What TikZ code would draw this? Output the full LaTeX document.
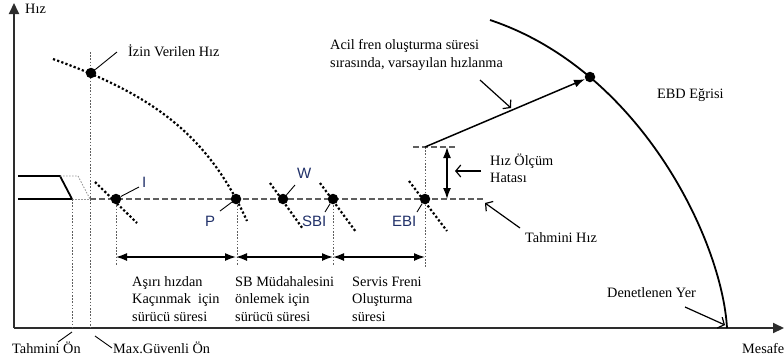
\documentclass[tikz,border=0pt]{standalone}
\usepackage{fontspec}
\setmainfont{Liberation Serif}
\newfontfamily\sansfnt{Liberation Sans}
\usetikzlibrary{arrows.meta}
\definecolor{axisgray}{RGB}{45,45,45}
\definecolor{guidegray}{RGB}{95,95,95}
\definecolor{lblblue}{RGB}{32,48,105}
\begin{document}
\begin{tikzpicture}[x=1pt,y=-1pt,
  every node/.style={font=\fontsize{14.3}{17.5}\selectfont, inner sep=0pt},
  txt/.style={anchor=base west},
  lbl/.style={anchor=base west, font=\sansfnt\fontsize{15}{17}\selectfont, text=lblblue},
  axis/.style={line width=2pt, draw=axisgray, -{Triangle[length=11pt,width=10pt]}},
  guide/.style={draw=guidegray, line width=0.9pt, dash pattern=on 1.6pt off 1.6pt},
  hdash/.style={draw=guidegray, line width=1.3pt, dash pattern=on 6pt off 3pt},
  dotcurve/.style={line width=2.2pt, dash pattern=on 2.2pt off 2.2pt},
  pt/.style={circle, fill=black, minimum size=10.5pt},
  dim/.style={line width=1.5pt, {Latex[length=11pt,width=8pt]}-{Latex[length=11pt,width=8pt]}},
  lead/.style={line width=0.9pt},
  barb/.style={line width=1.2pt, -{Straight Barb[length=5pt,width=12pt]}},
  train/.style={line width=1.8pt},
  ghost/.style={draw=black!40, line width=0.9pt, dash pattern=on 1.5pt off 1.5pt},
]
\useasboundingbox (0,0) rectangle (784,360);

% axes
\coordinate (O) at (14,328);
\coordinate (ytop) at (14,3);
\coordinate (xend) at (784,328);
\draw[axis] (O) -- (ytop);
\draw[axis] (O) -- (xend);
\node[txt] (hiz) at (25,13) {Hız};
\node[txt] (mesafe) at (742,353) {Mesafe};

% train front
\draw[train] (18,176) -- (60,176) -- (72,199);
\draw[train] (18,199) -- (72,199);
\draw[ghost] (60,176) -- (78,176) -- (90,199);
\draw[ghost] (72,199) -- (90,199);

% vertical guides
\coordinate (tonTop) at (72,199);
\coordinate (tonBot) at (72,328);
\coordinate (mgTop) at (90,52);
\coordinate (mgBot) at (90,328);
\draw[guide] (tonTop) -- (tonBot);
\draw[guide] (mgTop) -- (mgBot);

% estimated speed line
\coordinate (hsStart) at (90,199);
\coordinate (hsEnd) at (484,199);
\draw[hdash] (hsStart) -- (hsEnd);
\coordinate (errL) at (413,147);
\coordinate (errR) at (457,147);
\draw[hdash] (errL) -- (errR);

% guides from points
\coordinate (gI) at (116,266);
\coordinate (gP) at (237,266);
\coordinate (gS) at (333,266);
\coordinate (gE) at (425,268);
\coordinate (ebiTop) at (425,147);
\draw[guide] (116,199) -- (gI);
\draw[guide] (237,199) -- (gP);
\draw[guide] (333,199) -- (gS);
\draw[guide] (ebiTop) -- (gE);

% permitted speed curve
\draw[dotcurve] (53,59) .. controls (150.5,94) and (207,133) .. (247,221);

% short dotted crossing lines
\draw[dotcurve] (95,182) -- (137,223);
\draw[dotcurve] (270,183) -- (303,229);
\draw[dotcurve] (320,183) -- (356,232);
\draw[dotcurve] (409,181) -- (447,231);

% EBD curve
\draw[line width=1.8pt] (490,20) .. controls (640,70) and (722,240) .. (727,328);

% dots
\node[pt] (izin) at (91,73) {};
\node[pt] (I) at (116,199) {};
\node[pt] (P) at (236,199) {};
\node[pt] (W) at (283,199) {};
\node[pt] (SBI) at (333,199) {};
\node[pt] (EBI) at (425,199) {};
\node[pt] (ebd) at (590,77) {};

% labels of points
\node[lbl] (lI) at (142,187) {I};
\node[lbl] (lP) at (205,226) {P};
\node[lbl] (lW) at (297,178) {W};
\node[lbl] (lSBI) at (302,226) {SBI};
\node[lbl] (lEBI) at (392,226) {EBI};
\coordinate (cI) at (139,187);
\coordinate (cP) at (220,211);
\coordinate (cW) at (295,185);
\coordinate (cS) at (325,212);
\coordinate (cE) at (417,212);
\draw[lead] (I) -- (cI);
\draw[lead] (P) -- (cP);
\draw[lead] (W) -- (cW);
\draw[lead] (SBI) -- (cS);
\draw[lead] (EBI) -- (cE);

% permitted speed label
\node[txt] (lizin) at (128,56) {İzin Verilen Hız};
\coordinate (cizin) at (117,52);
\draw[lead] (izin) -- (cizin);

% dimension arrows
\coordinate (dI) at (116,257);
\coordinate (dP) at (236,257);
\coordinate (dS) at (333,257);
\coordinate (dE) at (425,257);
\draw[dim] (dI) -- (dP);
\draw[dim] (dP) -- (dS);
\draw[dim] (dS) -- (dE);

% texts under arrows
\node[txt] (t11) at (132,286) {Aşırı hızdan};
\node[txt] (t12) at (132,303.5) {Kaçınmak\ \ için};
\node[txt] (t13) at (132,321) {sürücü süresi};
\node[txt] (t21) at (235,286) {SB Müdahalesini};
\node[txt] (t22) at (235,303.5) {önlemek için};
\node[txt] (t23) at (235,321) {sürücü süresi};
\node[txt] (t31) at (352,286) {Servis Freni};
\node[txt] (t32) at (352,303.5) {Oluşturma};
\node[txt] (t33) at (352,321) {süresi};

% speed measurement error
\coordinate (eTop) at (447,147);
\coordinate (eBot) at (447,199);
\draw[dim] (eTop) -- (eBot);
\node[txt] (herr1) at (490,165) {Hız Ölçüm};
\node[txt] (herr2) at (490,182) {Hatası};
\coordinate (aErrS) at (481,171);
\coordinate (aErrE) at (455,171);
\draw[barb] (aErrS) -- (aErrE);

% estimated speed label
\node[txt] (ths) at (525,242) {Tahmini Hız};
\coordinate (aHsS) at (520,228);
\coordinate (aHsE) at (485,203);
\draw[barb] (aHsS) -- (aHsE);

% acceleration
\draw[line width=1.5pt, -{Latex[length=11pt,width=8pt]}] (ebiTop) -- (ebd);
\node[txt] (acc1) at (330,49) {Acil fren oluşturma süresi};
\node[txt] (acc2) at (330,67) {sırasında, varsayılan hızlanma};
\coordinate (aAccS) at (480,80);
\coordinate (aAccE) at (511,108);
\draw[barb] (aAccS) -- (aAccE);

% EBD label
\node[txt] (lebd) at (657,98) {EBD Eğrisi};

% supervised location
\node[txt] (dyer) at (607,297) {Denetlenen Yer};
\coordinate (aDyS) at (685,307);
\coordinate (aDyE) at (725,325);
\draw[barb] (aDyS) -- (aDyE);

% bottom labels
\node[txt] (ton) at (12,353) {Tahmini Ön};
\node[txt] (mgon) at (113,353) {Max.Güvenli Ön};
\coordinate (lt1) at (58,342);
\coordinate (lt2) at (72,332);
\draw[lead] (lt1) -- (lt2);
\coordinate (lm1) at (95,336);
\coordinate (lm2) at (112,348);
\draw[lead] (lm1) -- (lm2);
\end{tikzpicture}
\end{document}
